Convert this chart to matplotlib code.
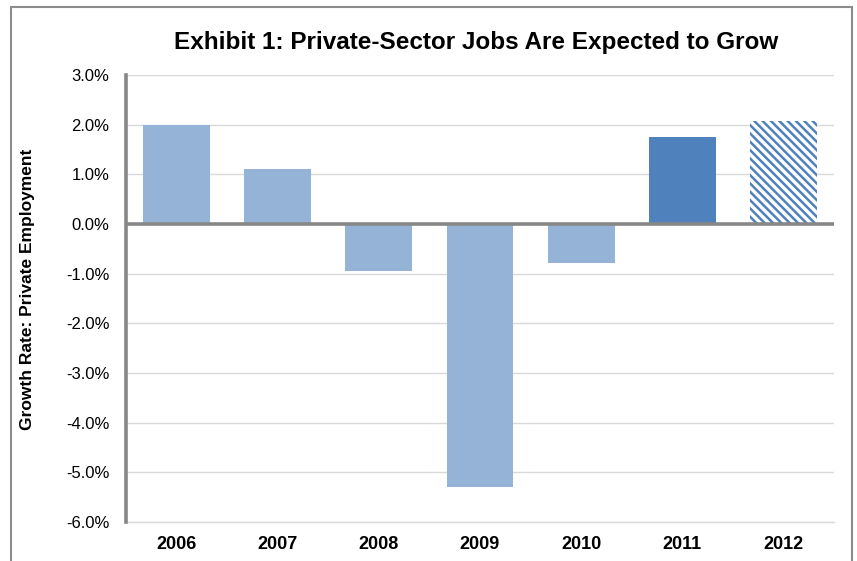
import matplotlib.pyplot as plt
from matplotlib.patches import Rectangle
from matplotlib.ticker import FuncFormatter

plt.rcParams["font.family"] = ["Liberation Sans", "DejaVu Sans"]
plt.rcParams["hatch.linewidth"] = 1.8

# Data
years = ["2006", "2007", "2008", "2009", "2010", "2011", "2012"]
growth = [2.0, 1.1, -0.95, -5.3, -0.78, 1.75, 2.07]
kinds = ["actual", "actual", "actual", "actual", "actual", "estimate", "forecast"]
yticks = [3, 2, 1, 0, -1, -2, -3, -4, -5, -6]

light = "#95B3D7"
dark = "#4F81BD"

fig = plt.figure(figsize=(8.57, 5.61), dpi=100)
ax = fig.add_axes([126 / 857, 1 - 522 / 561, 708 / 857, 447 / 561])

# grey frame around the whole exhibit
fig.patches.append(Rectangle((11 / 857, -0.05), 841 / 857, 1.05 - 7 / 561,
                             transform=fig.transFigure, fill=False,
                             edgecolor="#8c8c8c", linewidth=1.5))

x = range(len(years))
for i, (v, k) in enumerate(zip(growth, kinds)):
    if k == "forecast":
        ax.bar(i, v, width=0.66, facecolor="white", edgecolor=dark,
               hatch="\\\\\\\\", linewidth=0, zorder=3)
    else:
        ax.bar(i, v, width=0.66, color=dark if k == "estimate" else light,
               linewidth=0, zorder=3)

ax.set_xlim(-0.5, len(years) - 0.5)
ax.set_ylim(-6, 3)
ax.set_yticks(yticks)
ax.yaxis.set_major_formatter(FuncFormatter(lambda v, p: f"{v:.1f}%"))
ax.set_xticks(list(x))
ax.set_xticklabels(years, fontweight="bold", fontsize=13)
ax.tick_params(axis="y", length=0, pad=12, labelsize=12, colors="#000000")
ax.tick_params(axis="x", length=0, pad=10)

ax.grid(axis="y", color="#d9d9d9", linewidth=1, zorder=0)
ax.set_axisbelow(True)
ax.axhline(-6, color="#d9d9d9", linewidth=1, zorder=0, clip_on=False)
ax.axhline(0, color="#878787", linewidth=2.6, zorder=4)

for s in ["top", "right", "bottom"]:
    ax.spines[s].set_visible(False)
ax.spines["left"].set_color("#878787")
ax.spines["left"].set_linewidth(2.6)

ax.set_ylabel("Growth Rate: Private Employment", fontweight="bold", fontsize=12.5)
ax.yaxis.set_label_coords(-0.1285, 0.52)

fig.text(476 / 857, 1 - 42 / 561, "Exhibit 1: Private-Sector Jobs Are Expected to Grow",
         ha="center", va="center", fontsize=17.5, fontweight="bold")

fig.savefig("out.png", dpi=100)
